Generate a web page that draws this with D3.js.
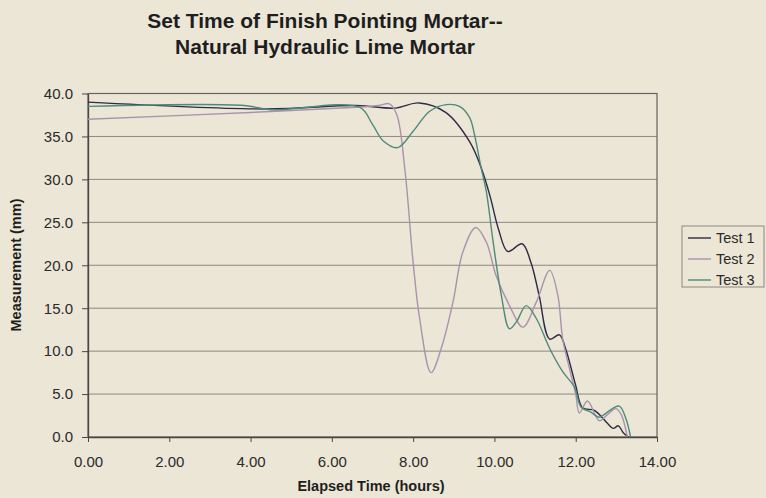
<!DOCTYPE html>
<html>
<head>
<meta charset="utf-8">
<script src="https://cdn.jsdelivr.net/npm/d3@7"></script>
<style>
  html, body { margin: 0; padding: 0; background: #ece6d7; }
  svg { display: block; font-family: "Liberation Sans", Arial, sans-serif; }
</style>
</head>
<body>
<svg id="chart" width="766" height="498"></svg>
<script>
// Set-time readings (mm) against elapsed time (hours) for three tests
const test1Time  = [0, 4.4, 6.6, 7.55, 8.15, 8.8, 9.4, 9.7, 9.9, 10.1, 10.33, 10.68, 10.9, 11.1, 11.36, 11.6, 11.75, 12.0, 12.17, 12.46, 12.78, 12.92, 13.05, 13.17, 13.3];
const test1Value = [39.0, 38.2, 38.6, 38.3, 38.9, 37.8, 34.3, 31.0, 27.9, 24.2, 21.6, 22.5, 20.3, 16.5, 11.4, 11.9, 10.3, 6.0, 3.4, 3.1, 1.6, 1.0, 1.3, 0.5, 0.0];

const test2Time  = [0, 4.5, 6.6, 7.15, 7.42, 7.6, 7.8, 8.0, 8.16, 8.44, 8.69, 8.98, 9.22, 9.54, 9.8, 10.04, 10.37, 10.7, 11.03, 11.36, 11.56, 11.68, 11.85, 12.0, 12.09, 12.29, 12.58, 12.78, 12.99, 13.12, 13.27];
const test2Value = [37.0, 37.9, 38.4, 38.6, 38.8, 37.5, 31.0, 20.3, 13.8, 7.5, 10.3, 15.7, 21.5, 24.4, 22.7, 18.8, 15.3, 12.8, 15.7, 19.4, 16.5, 11.4, 7.9, 5.0, 2.8, 4.2, 1.9, 2.6, 3.3, 2.6, 0.0];

const test3Time  = [0, 3.85, 4.5, 6.68, 7.0, 7.26, 7.62, 8.0, 8.4, 8.81, 9.14, 9.39, 9.51, 9.67, 9.8, 9.96, 10.17, 10.37, 10.54, 10.78, 11.03, 11.36, 11.68, 11.97, 12.13, 12.37, 12.58, 12.72, 13.07, 13.23, 13.35];
const test3Value = [38.5, 38.6, 38.1, 38.4, 36.4, 34.5, 33.7, 35.6, 37.9, 38.7, 38.5, 37.2, 35.2, 31.4, 28.6, 23.0, 16.5, 12.6, 13.4, 15.3, 13.8, 10.3, 7.6, 5.8, 3.5, 2.9, 2.3, 2.7, 3.6, 2.2, 0.0];

const seriesNames  = ["Test 1", "Test 2", "Test 3"];
const seriesColors = ["#2d2947", "#a993ab", "#4e8a79"];

const xTicks = [0, 2, 4, 6, 8, 10, 12, 14];
const yTicks = [0, 5, 10, 15, 20, 25, 30, 35, 40];

const titleLines = ["Set Time of Finish Pointing Mortar--", "Natural Hydraulic Lime Mortar"];
const xTitle = "Elapsed Time (hours)";
const yTitle = "Measurement (mm)";

const series = [
  { name: seriesNames[0], color: seriesColors[0], pts: test1Time.map((t, i) => [t, test1Value[i]]) },
  { name: seriesNames[1], color: seriesColors[1], pts: test2Time.map((t, i) => [t, test2Value[i]]) },
  { name: seriesNames[2], color: seriesColors[2], pts: test3Time.map((t, i) => [t, test3Value[i]]) }
];

const svg = d3.select("#chart");
const plot = { left: 88, right: 657, top: 93.5, bottom: 437 };

const x = d3.scaleLinear().domain([0, 14]).range([plot.left, plot.right]);
const y = d3.scaleLinear().domain([0, 40]).range([plot.bottom, plot.top]);

// Title
svg.append("g").selectAll("text").data(titleLines).join("text")
  .attr("x", 325).attr("y", (d, i) => 28 + i * 25.5)
  .attr("text-anchor", "middle")
  .attr("font-size", 21).attr("font-weight", "bold").attr("fill", "#1e1e1e")
  .text(d => d);

// Horizontal gridlines
svg.append("g").selectAll("line").data(yTicks.filter(v => v > 0 && v < 40)).join("line")
  .attr("x1", plot.left).attr("x2", plot.right)
  .attr("y1", d => y(d)).attr("y2", d => y(d))
  .attr("stroke", "#8c8780").attr("stroke-width", 1);

// Plot frame
svg.append("rect")
  .attr("x", plot.left).attr("y", plot.top)
  .attr("width", plot.right - plot.left).attr("height", plot.bottom - plot.top)
  .attr("fill", "none").attr("stroke", "#66625c").attr("stroke-width", 1.2);

// Axes
const xAxis = d3.axisBottom(x).tickValues(xTicks).tickFormat(d3.format(".2f")).tickSizeInner(5).tickSizeOuter(0).tickPadding(14);
const yAxis = d3.axisLeft(y).tickValues(yTicks).tickFormat(d3.format(".1f")).tickSizeInner(6).tickSizeOuter(0).tickPadding(9);

const gx = svg.append("g").attr("transform", `translate(0,${plot.bottom})`).call(xAxis);
const gy = svg.append("g").attr("transform", `translate(${plot.left},0)`).call(yAxis);
[gx, gy].forEach(g => {
  g.select(".domain").attr("stroke", "#4a4743").attr("stroke-width", 1.3);
  g.selectAll(".tick line").attr("stroke", "#4a4743");
  g.selectAll(".tick text").attr("font-size", 15).attr("fill", "#2a2a2a")
    .attr("font-family", "'Liberation Sans', Arial, sans-serif");
});

// Axis titles
svg.append("text").attr("x", 371).attr("y", 491)
  .attr("text-anchor", "middle").attr("font-size", 14.5).attr("font-weight", "bold").attr("fill", "#1e1e1e")
  .text(xTitle);
svg.append("text").attr("transform", "translate(21,265) rotate(-90)")
  .attr("text-anchor", "middle").attr("font-size", 14.5).attr("font-weight", "bold").attr("fill", "#1e1e1e")
  .text(yTitle);

// Smoothed series lines
const line = d3.line().x(d => x(d[0])).y(d => y(d[1])).curve(d3.curveCatmullRom.alpha(0.5));
svg.append("g").selectAll("path").data(series).join("path")
  .attr("d", d => line(d.pts))
  .attr("fill", "none").attr("stroke", d => d.color).attr("stroke-width", 1.4);

// Legend
const legend = svg.append("g");
legend.append("rect").attr("x", 682).attr("y", 226).attr("width", 82).attr("height", 61)
  .attr("fill", "none").attr("stroke", "#8c8780").attr("stroke-width", 1);
const items = legend.selectAll("g.item").data(series).join("g").attr("class", "item")
  .attr("transform", (d, i) => `translate(0,${238 + i * 21})`);
items.append("line").attr("x1", 688).attr("x2", 711).attr("y1", 0).attr("y2", 0)
  .attr("stroke", d => d.color).attr("stroke-width", 1.4);
items.append("text").attr("x", 716).attr("y", 5).attr("font-size", 14.5).attr("fill", "#2a2a2a")
  .text(d => d.name);
</script>
</body>
</html>
